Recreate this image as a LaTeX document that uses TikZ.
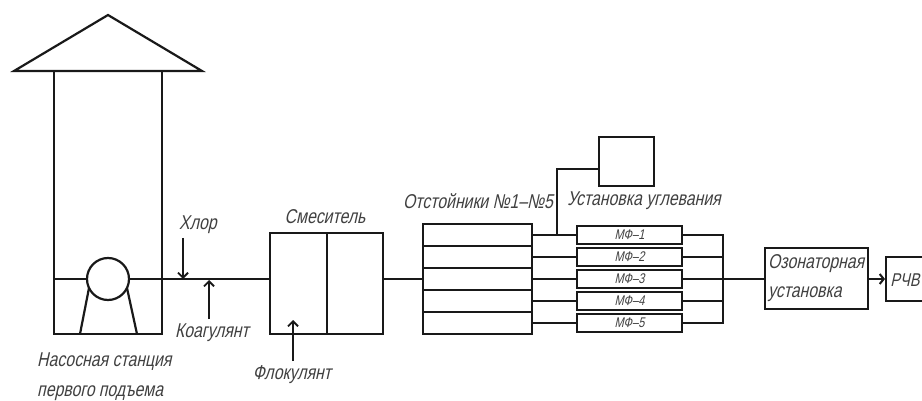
\documentclass[tikz,border=0pt]{standalone}
\usepackage{fontspec}
\setmainfont[FakeSlant=0.22,FakeStretch=0.79]{Liberation Sans}
\usetikzlibrary{arrows.meta,calc}
\tikzset{
  x=1pt,y=-1pt,
  ln/.style={draw=black!90,line width=2.2pt,line join=miter},
  thin ln/.style={draw=black!90,line width=1.7pt},
  arr/.style={draw=black!90,line width=1.8pt,-{Straight Barb[length=5pt,width=10pt,line width=1.8pt]}},
  bx/.style={draw=black!90,line width=2.2pt,rectangle,inner sep=0pt,outer sep=0pt,anchor=north west},
  lbl/.style={text=black!75,inner sep=0pt,font=\fontsize{20}{22}\selectfont},
  mf/.style={bx,minimum width=105pt,minimum height=18pt,line width=2.6pt,text=black!75,font=\fontsize{14}{15}\selectfont},
  st/.style={bx,minimum width=109pt,minimum height=22pt}
}
\begin{document}
\begin{tikzpicture}
\useasboundingbox (0,0) rectangle (922,401);
% pump station
\draw[ln] (14,71) -- (108,15) -- (202,71) -- cycle;
\draw[ln] (54,71) -- (54,334) -- (162,334) -- (162,71);
\node[draw=black!90,line width=2.2pt,circle,minimum size=42pt,inner sep=0pt,outer sep=0pt] (pump) at (108,279) {};
\coordinate (wallL) at (54,279);
\draw[ln] (wallL) -- (pump);
\draw[ln] (89,288) -- (80,334);
\draw[ln] (127,288) -- (137,334);
% mixer
\node[bx,minimum width=113pt,minimum height=101pt] (mix) at (270,233) {};
\draw[ln] (327,233) -- (327,334);
\draw[ln] (pump) -- (mix.west |- pump);
% reagent arrows
\coordinate (hl0) at (183,238); \coordinate (hl1) at (183,279);
\coordinate (ko0) at (209,319); \coordinate (ko1) at (209,280);
\coordinate (fl0) at (293,361); \coordinate (fl1) at (293,320);
\draw[arr] (hl0) -- (hl1);
\draw[arr] (ko0) -- (ko1);
\draw[arr] (fl0) -- (fl1);
% settlers
\node[st] (s1) at (423,224) {};
\node[st] (s2) at (423,246) {};
\node[st] (s3) at (423,268) {};
\node[st] (s4) at (423,290) {};
\node[st] (s5) at (423,312) {};
\draw[ln] (mix.east |- s3.west) -- (s3.west);
% filters
\node[mf] (m1) at (577,226) {МФ–1};
\node[mf] (m2) at (577,248) {МФ–2};
\node[mf] (m3) at (577,270) {МФ–3};
\node[mf] (m4) at (577,292) {МФ–4};
\node[mf] (m5) at (577,314) {МФ–5};
\foreach \i in {1,...,5}{ \draw[ln] (s\i.east) -- (m\i.west); }
% right collector
\coordinate (busT) at (723,235);
\coordinate (busB) at (723,323);
\draw[ln] (m1.east) -- (busT) -- (busB) -- (m5.east);
\draw[ln] (m2.east) -- (723,257);
\draw[ln] (m3.east) -- (723,279);
\draw[ln] (m4.east) -- (723,301);
% carbon unit
\node[bx,minimum width=55pt,minimum height=49pt] (carb) at (599,137) {};
\coordinate (tap) at (557,235);
\draw[ln] (tap) -- (557,169) -- (carb.west |- 557,169);
% ozone
\node[bx,minimum width=103pt,minimum height=61pt] (oz) at (765,248) {};
\draw[thin ln] (723,279) -- (oz.west |- 723,279);
% RCHV
\coordinate (rT) at (923,257);
\coordinate (rB) at (923,301);
\draw[ln] (rT) -- (886,257) -- (886,301) -- (rB);
\coordinate (rW) at (885,279);
\draw[ln,-{Straight Barb[length=4pt,width=10pt,line width=2pt]}] (oz.east |- rW) -- (rW);
% labels
\node[lbl] (t1) at (478,201) {Отстойники №1–№5};
\node[lbl] (t2) at (644,201) {Установка углевания};
\node[lbl] (t3) at (198,225) {Хлор};
\node[lbl] (t4) at (212,333) {Коагулянт};
\node[lbl] (t5) at (325,217) {Смеситель};
\node[lbl] (t6) at (292,375) {Флокулянт};
\node[lbl,anchor=west] (t7) at (37,362) {Насосная станция};
\node[lbl,anchor=west] (t8) at (37,393) {первого подъема};
\node[lbl,anchor=west] (t9) at (768,264) {Озонаторная};
\node[lbl,anchor=west] (t10) at (768,294) {установка};
\node[lbl,font=\fontsize{18.5}{20}\selectfont] (t11) at (905,280) {РЧВ};
\end{tikzpicture}
\end{document}
